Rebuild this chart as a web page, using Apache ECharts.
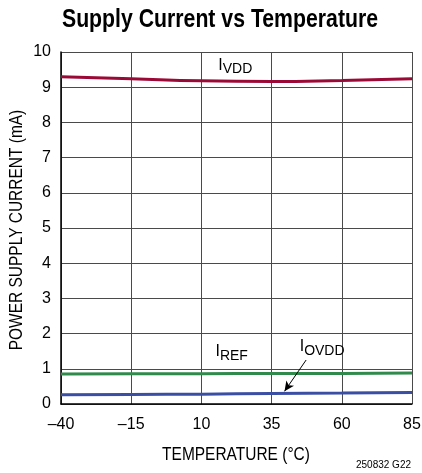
<!DOCTYPE html>
<html><head><meta charset="utf-8">
<script src="https://cdn.jsdelivr.net/npm/echarts@6/dist/echarts.min.js"></script>
<style>html,body{margin:0;padding:0;background:#fff}#c{width:422px;height:473px}</style>
</head><body><div id="c"></div>
<script>
const temps = [-40, -15, 10, 35, 60, 85];
const iVDD = [9.30, 9.24, 9.18, 9.16, 9.19, 9.24];
const iREF = [0.85, 0.86, 0.86, 0.87, 0.87, 0.88];
const iOVDD = [0.26, 0.27, 0.28, 0.30, 0.31, 0.33];
const xTickLabels = ['–40', '–15', '10', '35', '60', '85'];
const yTickLabels = ['0','1','2','3','4','5','6','7','8','9','10'];
const X0 = -40;
const FONT = "'Liberation Sans',Arial,sans-serif";

const pts = v => temps.map((t, i) => [t - X0, v[i]]);
const chart = echarts.init(document.getElementById('c'), null, {renderer: 'canvas'});
const lineSeries = (name, data, color) => ({
  name, type: 'line', data: pts(data), smooth: true, showSymbol: false,
  lineStyle: {color, width: 3}, z: 3
});
chart.setOption({
  animation: false,
  grid: {left: 61, right: 10, top: 52, bottom: 69, outerBoundsMode: 'none', containLabel: false},
  xAxis: {type: 'value', min: 0, max: 125, interval: 25,
    axisLine: {lineStyle: {color: '#000', width: 1.5}},
    axisTick: {show: false},
    axisLabel: {fontFamily: FONT, fontSize: 16, color: '#000', margin: 13,
      formatter: v => xTickLabels[Math.round(v / 25)]},
    splitLine: {lineStyle: {color: '#4a4a4a', width: 1}}},
  yAxis: {type: 'value', min: 0, max: 10, interval: 1,
    axisLine: {show: true, lineStyle: {color: '#000', width: 1.5}},
    axisTick: {show: false},
    axisLabel: {fontFamily: FONT, fontSize: 16, color: '#000', margin: 10,
      formatter: v => yTickLabels[Math.round(v)]},
    splitLine: {lineStyle: {color: '#4a4a4a', width: 1}}},
  series: [
    lineSeries('IVDD', iVDD, '#9b0a36'),
    lineSeries('IREF', iREF, '#2f8a4c'),
    lineSeries('IOVDD', iOVDD, '#3a4ea3'),
    {type: 'line', data: [], markLine: {silent: true, symbol: ['none', 'arrow'], symbolSize: [7, 10],
      lineStyle: {color: '#000', width: 1, type: 'solid'}, label: {show: false},
      data: [[{coord: [87.3, 1.25]}, {coord: [79.6, 0.36]}]]}}
  ]
});

const px = (t, v) => chart.convertToPixel({gridIndex: 0}, [t - X0, v]);
const subLabel = (t, v, main, sub) => {
  const p = px(t, v);
  return {type: 'text', x: p[0], y: p[1], z: 10,
    style: {text: main + '{s|' + sub + '}', fontFamily: FONT, fontSize: 16, fill: '#000',
      textVerticalAlign: 'bottom',
      rich: {s: {fontFamily: FONT, fontSize: 14, fill: '#000', padding: [9, 0, 0, 0]}}}};
};
chart.setOption({graphic: [
  {type: 'text', x: 220, y: 8, scaleX: 0.85, originX: 0,
    style: {text: 'Supply Current vs Temperature', fontFamily: FONT, fontWeight: 'bold',
      fontSize: 25, fill: '#000', align: 'center'}},
  {type: 'text', x: 236, y: 455, scaleX: 0.86,
    style: {text: 'TEMPERATURE (°C)', fontFamily: FONT, fontSize: 18, fill: '#000',
      align: 'center', verticalAlign: 'middle'}},
  {type: 'text', x: 17, y: 230, rotation: Math.PI / 2, scaleX: 0.86,
    style: {text: 'POWER SUPPLY CURRENT (mA)', fontFamily: FONT, fontSize: 18, fill: '#000',
      align: 'center', verticalAlign: 'middle'}},
  subLabel(16, 9.3, 'I', 'VDD'),
  subLabel(15, 1.15, 'I', 'REF'),
  subLabel(45, 1.3, 'I', 'OVDD'),
  {type: 'text', right: 11, bottom: 3,
    style: {text: '250832 G22', fontFamily: FONT, fontSize: 10, fill: '#000'}}
]});
</script></body></html>
